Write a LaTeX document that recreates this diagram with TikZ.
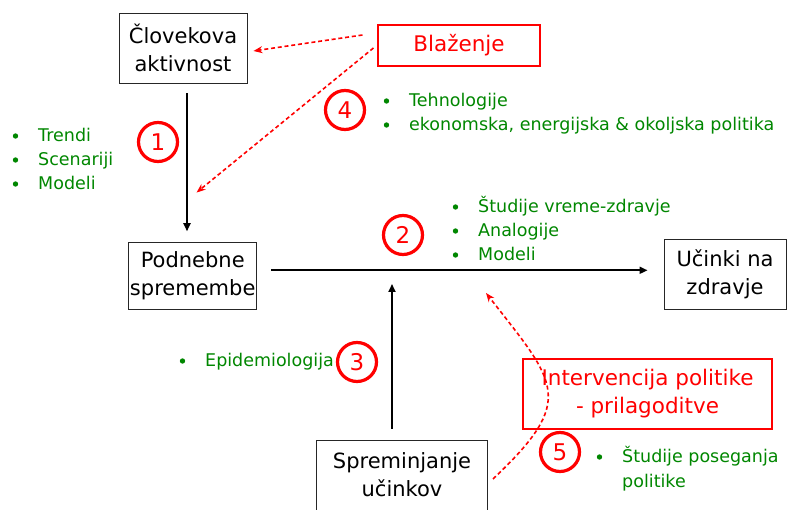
\documentclass[tikz,border=0pt]{standalone}
\usepackage{fontspec}
\setmainfont{DejaVu Sans}
\usetikzlibrary{arrows.meta,calc}
\definecolor{gr}{RGB}{0,135,0}
\definecolor{rd}{RGB}{255,0,0}
\tikzset{
 boxline/.style={draw=black!85, line width=0.9pt},
 box/.style={boxline, inner sep=0pt, align=center, font=\fontsize{21}{28}\selectfont},
 boxtext/.style={inner sep=0pt, align=center, font=\fontsize{21}{28}\selectfont},
 redbox/.style={draw=rd, line width=1.1pt, inner sep=0pt, align=center, text=rd, font=\fontsize{21.5}{28}\selectfont},
 num/.style={circle, draw=rd, line width=3.2pt, minimum size=39pt, inner sep=0pt, text=rd, font=\fontsize{23}{23}\selectfont},
 gtext/.style={text=gr, inner sep=0pt, font=\fontsize{17.5}{24}\selectfont},
 blk/.style={line width=1.7pt, -{Triangle[length=8pt,width=7pt]}},
 reddash/.style={draw=rd, line width=1.6pt, dash pattern=on 4pt off 2.8pt, -{Stealth[length=9pt,width=7pt]}},
}
\newcommand\gitem[4]{\node[gtext,anchor=base west] (#1) at (#2,#3) {#4};
  \fill[gr] ([shift={(-22.5pt,6pt)}]#1.base west) circle (2.7pt);}
\begin{document}
\begin{tikzpicture}[x=1pt,y=-1pt]
\useasboundingbox (0,0) rectangle (788,510);
\clip (0,0) rectangle (788,510);
\fill[white] (0,0) rectangle (788,510);

% boxes
\node[box, minimum width=128pt, minimum height=70pt] (hum) at (183,48) {Človekova\\aktivnost};
\node[box, minimum width=128pt, minimum height=67pt] (clim) at (192.7,275.8) {Podnebne\\spremembe};
\node[box, minimum width=122pt, minimum height=69.5pt] (health) at (725,274.5) {Učinki na\\zdravje};
\node[boxtext, minimum width=170pt, minimum height=68pt] (modif) at (402,475) {Spreminjanje\\učinkov};
\draw[boxline] ([yshift=-10pt]modif.south west) -- (modif.north west) -- (modif.north east) -- ([yshift=-10pt]modif.south east);
\node[redbox, minimum width=162pt, minimum height=41pt] (blaz) at (459,45.5) {Blaženje};
\node[redbox, minimum width=249pt, minimum height=70pt] (interv) at (647.5,394) {Intervencija politike\\- prilagoditve};

% black arrows
\draw[blk, shorten <=10pt, shorten >=10.6pt] ([xshift=4pt]hum.south) -- ([xshift=4pt]hum.south |- clim.north);
\draw[blk, shorten <=14.3pt, shorten >=16pt] ([yshift=5.5pt]clim.east) -- ([yshift=5.5pt]clim.east -| health.west);
\coordinate (hl) at (392,270.3);
\draw[blk, shorten <=12pt, shorten >=13.7pt] ([xshift=-10pt]modif.north) -- ([xshift=-10pt]modif.north |- hl);

% red dashed arrows
\draw[reddash] ([shift={(-15pt,10.5pt)}]blaz.west) -- ([shift={(6pt,-3pt)}]hum.east);
\draw[reddash] ([shift={(-4pt,-2.5pt)}]blaz.west) -- ([shift={(68.3pt,49.3pt)}]clim.north west);
\coordinate (cs) at (493,479);
\coordinate (ce) at (486,293);
\draw[reddash] (cs) .. controls (577,399.6) and (556.8,383.6) .. (ce);

% numbers
\node[num] (n1) at (158,142) {1};
\node[num] (n2) at (403,235) {2};
\node[num] (n3) at (357,362) {3};
\node[num] (n4) at (345,110) {4};
\node[num] (n5) at (560,452) {5};

% green lists
\gitem{t1}{38}{142}{Trendi}
\gitem{t2}{38}{166}{Scenariji}
\gitem{t3}{38}{190}{Modeli}
\gitem{m1}{409}{107}{Tehnologije}
\gitem{m2}{409}{131}{ekonomska, energijska \& okoljska politika}
\gitem{s1}{478}{213}{Študije vreme-zdravje}
\gitem{s2}{478}{237}{Analogije}
\gitem{s3}{478}{261}{Modeli}
\gitem{e1}{205}{367}{Epidemiologija}
\gitem{p1}{622}{463}{Študije poseganja}
\node[gtext,anchor=base west] (p2) at (622,488) {politike};
\end{tikzpicture}
\end{document}
